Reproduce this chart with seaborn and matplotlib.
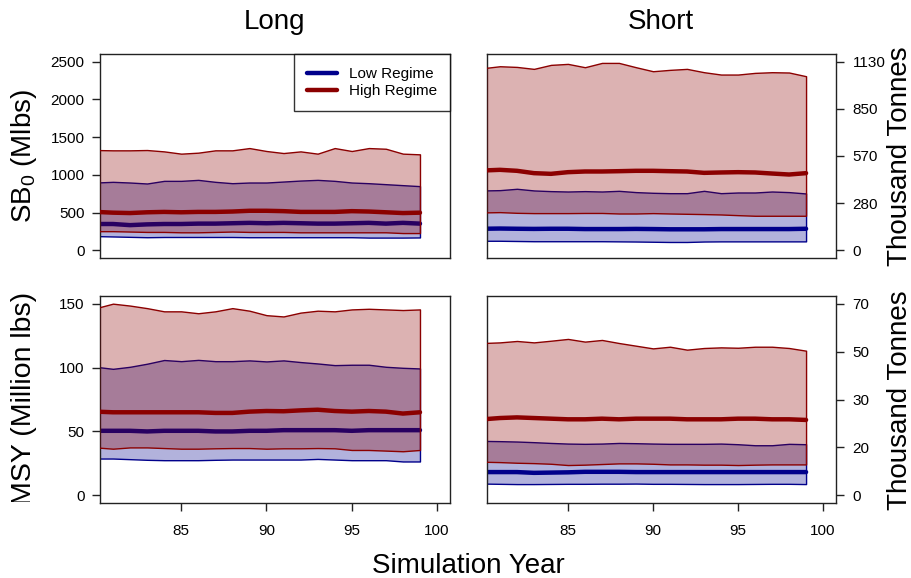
import matplotlib
matplotlib.use("Agg")
import matplotlib.pyplot as plt
from matplotlib.lines import Line2D
from matplotlib.transforms import Bbox, TransformedBbox
import seaborn as sns
import pandas as pd

# ---------------- data ----------------
years = list(range(80, 100))

long_sb0_low_upper = [899, 908, 899, 886, 921, 921, 934, 908, 890, 899, 899, 912, 925, 934, 921, 899, 890, 877, 864, 851]
long_sb0_low_median = [350, 350, 335, 345, 350, 350, 355, 355, 360, 365, 360, 365, 360, 355, 355, 360, 365, 355, 365, 355]
long_sb0_low_lower = [190, 185, 180, 175, 178, 178, 178, 178, 178, 175, 175, 175, 175, 175, 175, 175, 170, 170, 170, 172]
long_sb0_high_upper = [1329, 1325, 1325, 1329, 1311, 1281, 1294, 1325, 1325, 1355, 1316, 1289, 1311, 1281, 1355, 1316, 1355, 1346, 1281, 1272]
long_sb0_high_median = [510, 500, 495, 505, 510, 505, 510, 510, 515, 525, 525, 520, 510, 510, 510, 520, 515, 505, 495, 500]
long_sb0_high_lower = [255, 255, 250, 245, 245, 240, 240, 245, 250, 245, 245, 245, 240, 240, 240, 240, 240, 240, 230, 230]

short_sb0_low_upper = [794, 798, 816, 794, 785, 780, 785, 780, 789, 772, 763, 758, 758, 789, 758, 767, 767, 780, 772, 754]
short_sb0_low_median = [287, 290, 287, 285, 287, 287, 283, 283, 283, 285, 283, 280, 280, 280, 283, 283, 283, 283, 283, 287]
short_sb0_low_lower = [128, 128, 125, 122, 122, 122, 122, 122, 120, 118, 115, 112, 112, 118, 120, 120, 120, 120, 120, 120]
short_sb0_high_upper = [2412, 2438, 2429, 2403, 2456, 2469, 2425, 2482, 2482, 2425, 2372, 2390, 2403, 2359, 2328, 2328, 2350, 2359, 2355, 2306]
short_sb0_high_median = [1058, 1067, 1054, 1023, 1014, 1036, 1045, 1045, 1049, 1054, 1054, 1049, 1045, 1027, 1032, 1036, 1032, 1018, 1005, 1023]
short_sb0_high_lower = [503, 507, 498, 494, 494, 494, 496, 496, 489, 489, 494, 489, 485, 481, 476, 467, 459, 459, 459, 459]

long_msy_low_upper = [100.6, 99, 100.6, 103, 105.9, 105, 106, 105, 105, 105.6, 104.8, 105.6, 104.3, 103.2, 101.9, 102.2, 102.2, 100.6, 99.8, 99.3]
long_msy_low_median = [50.5, 50.5, 50.5, 50, 50.5, 50.5, 50.5, 50, 50, 50.5, 50.5, 51, 51, 51, 51, 50.5, 51, 51, 51, 51]
long_msy_low_lower = [28.8, 28.8, 28.3, 27.8, 27.5, 27.5, 27.5, 27.8, 28, 28, 28, 28, 28, 28.5, 28, 27.5, 27.5, 27.5, 26.5, 26.5]
long_msy_high_upper = [146.5, 150, 148.5, 146.5, 144, 144, 142.5, 144, 146.5, 144.5, 141, 140, 143, 144.5, 144, 145.5, 146, 145.5, 145, 145.5]
long_msy_high_median = [65.5, 65, 65, 65, 65, 65, 65, 64.5, 64.5, 65.5, 66, 65.8, 66.5, 67, 66, 65.5, 66, 65.5, 64, 65]
long_msy_high_lower = [37.5, 36.5, 37.5, 37.5, 37, 36.5, 36.5, 36.8, 37, 37, 36.5, 36.8, 36.8, 37, 36.8, 35.5, 35.5, 35, 34.5, 35.5]

short_msy_low_upper = [42.6, 42.4, 42.1, 41.6, 41, 40.5, 40.3, 40.5, 41, 40.8, 40.5, 40.3, 40.3, 40.3, 40.5, 40, 39.2, 39.2, 40.3, 40]
short_msy_low_median = [18.2, 18.2, 18.2, 17.6, 17.8, 18, 18.4, 18.4, 18.4, 18.2, 18.2, 18.2, 18.2, 18.2, 18.2, 18.2, 18.2, 18.2, 18.2, 18.2]
short_msy_low_lower = [9.2, 9.0, 8.8, 8.8, 8.9, 9.0, 9.0, 9.1, 9.1, 9.2, 9.0, 9.0, 8.9, 8.8, 8.8, 8.8, 8.9, 9.0, 9.0, 8.8]
short_msy_high_upper = [119.2, 119.7, 120.8, 119.7, 121, 122.4, 120.3, 121.6, 119.2, 117.1, 115, 116.3, 114, 115.3, 115.8, 115.5, 116.3, 116.3, 115.3, 113.2]
short_msy_high_median = [59.5, 60.5, 61, 60.5, 60, 59.5, 59.5, 60, 59.5, 60, 60, 60, 59.5, 59.5, 59.5, 60, 60, 59.5, 59.5, 59]
short_msy_high_lower = [26.3, 26, 25.5, 25.2, 24.7, 23.7, 24, 24.5, 25, 25, 24.7, 24.2, 24.2, 24, 24, 23.7, 24, 24.2, 24.2, 24.2]

column_titles = ["Long", "Short"]
regime_labels = ["Low Regime", "High Regime"]
x_ticks = [85, 90, 95, 100]
sb0_ticks = [0, 500, 1000, 1500, 2000, 2500]
msy_ticks = [0, 50, 100, 150]
sb0_kt_pos = [0, 625, 1250, 1875, 2500]
sb0_kt_labels = ["0", "280", "570", "850", "1130"]
msy_kt_pos = [0, 37.5, 75, 112.5, 150]
msy_kt_labels = ["0", "20", "30", "50", "70"]

# ---------------- style ----------------
sns.set_style("ticks")
plt.rcParams["font.family"] = ["Liberation Sans", "DejaVu Sans"]
plt.rcParams["mathtext.fontset"] = "custom"
plt.rcParams["mathtext.rm"] = "Liberation Sans"
plt.rcParams["mathtext.it"] = "Liberation Sans"
plt.rcParams["mathtext.default"] = "regular"
plt.rcParams["text.color"] = "black"
plt.rcParams["axes.labelcolor"] = "black"
plt.rcParams["xtick.color"] = "black"
plt.rcParams["ytick.color"] = "black"

BLUE = "#00008B"
RED = "#8B0000"

W, H = 912, 578
fig = plt.figure(figsize=(W / 100, H / 100), dpi=100)


def add_ax(x0, y0, x1, y1):
    return fig.add_axes([x0 / W, 1 - y1 / H, (x1 - x0) / W, (y1 - y0) / H])


ax_tl = add_ax(100, 54, 450, 258)
ax_tr = add_ax(487, 54, 836, 258)
ax_bl = add_ax(100, 296, 450, 503)
ax_br = add_ax(487, 296, 836, 503)


def draw(ax, low, high):
    lo_u, lo_m, lo_l = low
    hi_u, hi_m, hi_l = high
    ax.fill_between(years, lo_l, lo_u, facecolor=(0, 0, 0.545, 0.3),
                    edgecolor=BLUE, linewidth=1.0, zorder=1)
    df_lo = pd.DataFrame({"year": years, "v": lo_m})
    sns.lineplot(data=df_lo, x="year", y="v", color=BLUE, lw=3.2, ax=ax, zorder=2)
    ax.fill_between(years, hi_l, hi_u, facecolor=(0.545, 0, 0, 0.3),
                    edgecolor=RED, linewidth=1.0, zorder=3)
    df_hi = pd.DataFrame({"year": years, "v": hi_m})
    sns.lineplot(data=df_hi, x="year", y="v", color=RED, lw=3.2, ax=ax, zorder=4)
    ax.set_xlim(80.24, 100.76)
    ax.set_xlabel("")
    ax.set_ylabel("")
    for s in ax.spines.values():
        s.set_visible(True)
        s.set_color("#222222")
        s.set_linewidth(1.0)


draw(ax_tl, (long_sb0_low_upper, long_sb0_low_median, long_sb0_low_lower),
     (long_sb0_high_upper, long_sb0_high_median, long_sb0_high_lower))
draw(ax_tr, (short_sb0_low_upper, short_sb0_low_median, short_sb0_low_lower),
     (short_sb0_high_upper, short_sb0_high_median, short_sb0_high_lower))
draw(ax_bl, (long_msy_low_upper, long_msy_low_median, long_msy_low_lower),
     (long_msy_high_upper, long_msy_high_median, long_msy_high_lower))
draw(ax_br, (short_msy_low_upper, short_msy_low_median, short_msy_low_lower),
     (short_msy_high_upper, short_msy_high_median, short_msy_high_lower))

for ax in (ax_tl, ax_tr):
    ax.set_ylim(-100, 2600)
for ax in (ax_bl, ax_br):
    ax.set_ylim(-6, 156)

tick_kw = dict(direction="out", length=6, width=1, colors="#222222", labelsize=11,
               labelcolor="black")

# x axes
for ax in (ax_tl, ax_tr):
    ax.set_xticks([])
for ax in (ax_bl, ax_br):
    ax.set_xticks(x_ticks)
    ax.set_xticklabels([str(t) for t in x_ticks])
    ax.tick_params(axis="x", pad=9, **tick_kw)

# left y axes
ax_tl.set_yticks(sb0_ticks)
ax_tl.set_yticklabels([str(t) for t in sb0_ticks])
ax_bl.set_yticks(msy_ticks)
ax_bl.set_yticklabels([str(t) for t in msy_ticks])
for ax in (ax_tl, ax_bl):
    ax.tick_params(axis="y", pad=5, **tick_kw)

# right y axes (thousand tonnes)
ax_tr.set_yticks(sb0_kt_pos)
ax_tr.set_yticklabels(sb0_kt_labels)
ax_br.set_yticks(msy_kt_pos)
ax_br.set_yticklabels(msy_kt_labels)
for ax in (ax_tr, ax_br):
    ax.yaxis.tick_right()
    ax.tick_params(axis="y", left=False, labelleft=False, right=True,
                   labelright=True, pad=6, **tick_kw)

# legend
handles = [Line2D([0], [0], color=BLUE, lw=3.2), Line2D([0], [0], color=RED, lw=3.2)]
leg = ax_tl.legend(handles, regime_labels, loc="upper right", bbox_to_anchor=(1.0, 1.0),
                   frameon=True, fancybox=False, fontsize=11, borderaxespad=0,
                   handlelength=2.0, handletextpad=0.75, borderpad=0.85,
                   labelspacing=0.22)
leg.get_frame().set_edgecolor("black")
leg.get_frame().set_linewidth(1.0)
for t in leg.get_texts():
    t.set_color("black")

# titles and labels
fig.text(275 / W, 1 - 22 / H, column_titles[0], ha="center", va="center", fontsize=20)
fig.text(661 / W, 1 - 22 / H, column_titles[1], ha="center", va="center", fontsize=20)
fig.text(468 / W, 1 - 566 / H, "Simulation Year", ha="center", va="center", fontsize=20)
fig.text(24 / W, 1 - 156 / H, "SB$_0$ (Mlbs)", ha="center", va="center",
         rotation=90, fontsize=20)
msy_lab = fig.text(24 / W, 1 - 398 / H, "MSY (Million lbs)", ha="center", va="center",
                   rotation=90, fontsize=20.5)
msy_lab.set_clip_box(TransformedBbox(Bbox([[0, 1 - 502 / H], [1, 1]]), fig.transFigure))
msy_lab.set_clip_on(True)
fig.text(900 / W, 1 - 156 / H, "Thousand Tonnes", ha="center", va="center",
         rotation=90, fontsize=20)
fig.text(900 / W, 1 - 400 / H, "Thousand Tonnes", ha="center", va="center",
         rotation=90, fontsize=20)

fig.savefig("out.png", dpi=100)
